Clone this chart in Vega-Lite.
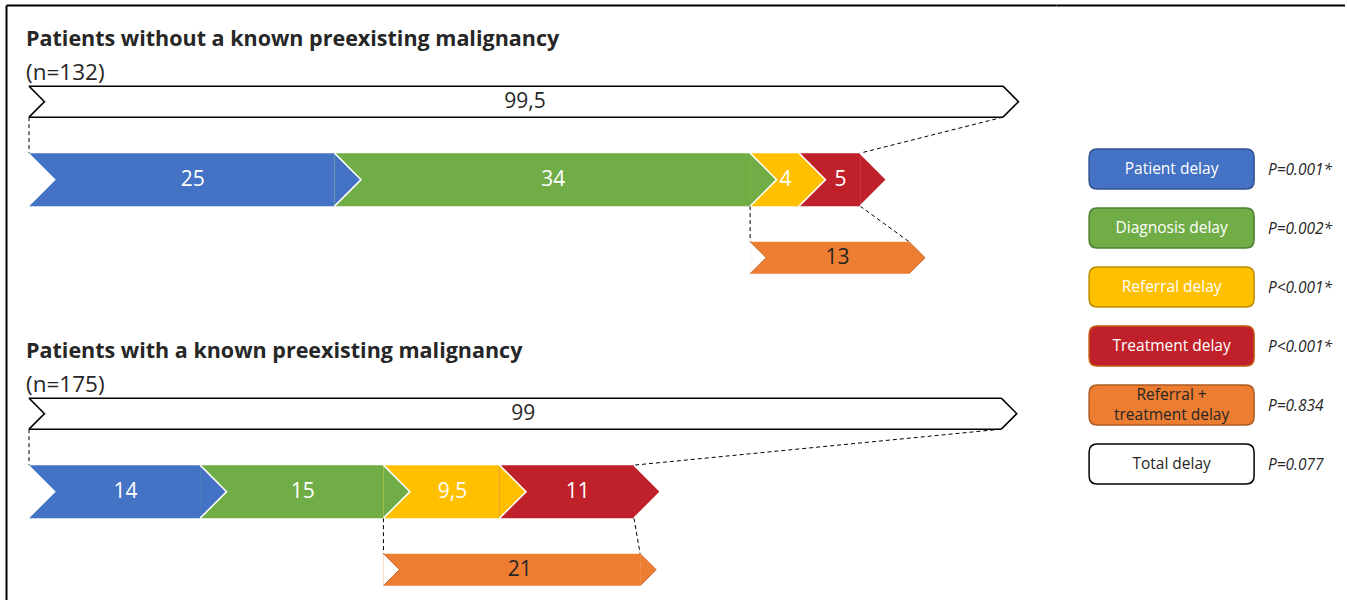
{
  "$schema": "https://vega.github.io/schema/vega-lite/v6.json",
  "padding": {"left": 6, "top": 5, "right": 0, "bottom": 0},
  "spacing": 0,
  "background": "white",
  "config": {
    "view": {"stroke": null},
    "font": "Open Sans",
    "axis": {"labels": false, "ticks": false, "grid": false, "domainColor": "#000000", "domainWidth": 2}
  },
  "datasets": {
    "segments": [
      {"group": "without", "lane": "without:delays", "order": 1, "delay": "Patient delay", "value": 25, "label": "25"},
      {"group": "without", "lane": "without:delays", "order": 2, "delay": "Diagnosis delay", "value": 34, "label": "34"},
      {"group": "without", "lane": "without:delays", "order": 3, "delay": "Referral delay", "value": 4, "label": "4"},
      {"group": "without", "lane": "without:delays", "order": 4, "delay": "Treatment delay", "value": 5, "label": "5"},
      {"group": "with", "lane": "with:delays", "order": 1, "delay": "Patient delay", "value": 14, "label": "14"},
      {"group": "with", "lane": "with:delays", "order": 2, "delay": "Diagnosis delay", "value": 15, "label": "15"},
      {"group": "with", "lane": "with:delays", "order": 3, "delay": "Referral delay", "value": 9.5, "label": "9,5"},
      {"group": "with", "lane": "with:delays", "order": 4, "delay": "Treatment delay", "value": 11, "label": "11"}
    ],
    "totals": [
      {"group": "without", "lane": "without:total", "delay": "Total delay", "value": 99.5, "label": "99,5", "title": "Patients without a known preexisting malignancy", "n": "(n=132)"},
      {"group": "with", "lane": "with:total", "delay": "Total delay", "value": 99, "label": "99", "title": "Patients with a known preexisting malignancy", "n": "(n=175)"}
    ],
    "combined": [
      {"group": "without", "lane": "without:combined", "delay": "Referral + treatment delay", "start": 59, "end": 72, "label": "13"},
      {"group": "with", "lane": "with:combined", "delay": "Referral + treatment delay", "start": 29, "end": 50, "label": "21"}
    ],
    "links": [
      {"kind": "total", "from": "without:total", "to": "without:delays", "xFrom": 0, "xTo": 0},
      {"kind": "total", "from": "without:total", "to": "without:delays", "xFrom": 99.5, "xTo": 68},
      {"kind": "combined", "from": "without:delays", "to": "without:combined", "xFrom": 59, "xTo": 59},
      {"kind": "combined", "from": "without:delays", "to": "without:combined", "xFrom": 68, "xTo": 72},
      {"kind": "total", "from": "with:total", "to": "with:delays", "xFrom": 0, "xTo": 0},
      {"kind": "total", "from": "with:total", "to": "with:delays", "xFrom": 99, "xTo": 49.5},
      {"kind": "combined", "from": "with:delays", "to": "with:combined", "xFrom": 29, "xTo": 29},
      {"kind": "combined", "from": "with:delays", "to": "with:combined", "xFrom": 49.5, "xTo": 50}
    ],
    "keyitems": [
      {"item": "Patient delay", "text": "Patient delay", "p": "P=0.001*"},
      {"item": "Diagnosis delay", "text": "Diagnosis delay", "p": "P=0.002*"},
      {"item": "Referral delay", "text": "Referral delay", "p": "P<0.001*"},
      {"item": "Treatment delay", "text": "Treatment delay", "p": "P<0.001*"},
      {"item": "Referral + treatment delay", "text": ["Referral +", "treatment delay"], "p": "P=0.834"},
      {"item": "Total delay", "text": "Total delay", "p": "P=0.077"}
    ]
  },
  "hconcat": [
    {
      "width": 1050,
      "height": 595,
      "layer": [
        {
          "data": {"name": "totals"},
          "transform": [{"stack": "value", "groupby": ["lane"], "as": ["x0", "x1"]}],
          "mark": {"type": "rule", "color": "#000000", "strokeWidth": 1.5, "yOffset": -15.5},
          "encoding": {
            "x": {"field": "x0", "type": "quantitative", "title": null, "scale": {"type": "linear", "domain": [-1.9, 0, 72, 99.5, 115], "range": [0, 23, 903, 997, 1050], "zero": false, "nice": false}, "axis": {"orient": "top", "title": null}},
            "x2": {"field": "x1"},
            "y": {"field": "lane", "type": "nominal", "title": null, "sort": null, "scale": {"type": "point", "domain": ["without:total", "without:delays", "without:combined", "gap", "with:total", "with:delays", "with:combined"], "padding": 0.814, "align": 0.761}, "axis": {"orient": "left", "title": null}}
          }
        },
        {
          "data": {"name": "totals"},
          "transform": [{"stack": "value", "groupby": ["lane"], "as": ["x0", "x1"]}],
          "mark": {"type": "rule", "color": "#000000", "strokeWidth": 1.5, "yOffset": 15.5},
          "encoding": {
            "x": {"field": "x0", "type": "quantitative", "title": null, "axis": {"orient": "top", "title": null}},
            "x2": {"field": "x1"},
            "y": {"field": "lane", "type": "nominal", "title": null}
          }
        },
        {
          "data": {"name": "links"},
          "transform": [{"filter": "datum.kind === 'total'"}],
          "mark": {"type": "rule", "strokeDash": [4, 3], "color": "#000000", "strokeWidth": 1, "yOffset": 15.5, "y2Offset": -26.5},
          "encoding": {
            "x": {"field": "xFrom", "type": "quantitative", "title": null, "axis": {"orient": "top", "title": null}},
            "x2": {"field": "xTo"},
            "y": {"field": "from", "type": "nominal", "title": null},
            "y2": {"field": "to"}
          }
        },
        {
          "data": {"name": "links"},
          "transform": [{"filter": "datum.kind === 'combined'"}],
          "mark": {"type": "rule", "strokeDash": [4, 3], "color": "#000000", "strokeWidth": 1, "yOffset": 26.5, "y2Offset": -16},
          "encoding": {
            "x": {"field": "xFrom", "type": "quantitative", "title": null, "axis": {"orient": "top", "title": null}},
            "x2": {"field": "xTo"},
            "y": {"field": "from", "type": "nominal", "title": null},
            "y2": {"field": "to"}
          }
        },
        {
          "data": {"name": "totals"},
          "transform": [{"stack": "value", "groupby": ["lane"], "as": ["x0", "x1"]}],
          "mark": {"type": "point", "shape": "M0,-1L1,0L0,1", "size": 961, "filled": false, "stroke": "#000000", "strokeWidth": 1.5, "opacity": 1},
          "encoding": {
            "x": {"field": "x0", "type": "quantitative", "title": null, "axis": {"orient": "top", "title": null}},
            "y": {"field": "lane", "type": "nominal", "title": null}
          }
        },
        {
          "data": {"name": "totals"},
          "mark": {"type": "point", "shape": "M0,-1L1,0L0,1", "size": 961, "filled": true, "fill": "#ffffff", "stroke": "#000000", "strokeWidth": 1.5, "opacity": 1},
          "encoding": {
            "x": {"field": "value", "type": "quantitative", "title": null, "axis": {"orient": "top", "title": null}},
            "y": {"field": "lane", "type": "nominal", "title": null}
          }
        },
        {
          "data": {"name": "totals"},
          "mark": {"type": "text", "fontSize": 21, "color": "#262626", "dx": -478, "baseline": "middle"},
          "encoding": {
            "x": {"field": "value", "type": "quantitative", "title": null, "axis": {"orient": "top", "title": null}},
            "y": {"field": "lane", "type": "nominal", "title": null},
            "text": {"field": "label", "type": "nominal"}
          }
        },
        {
          "data": {"name": "segments"},
          "transform": [{"stack": "value", "groupby": ["lane"], "sort": [{"field": "order", "order": "ascending"}], "as": ["x0", "x1"]}],
          "mark": {"type": "bar", "height": 53},
          "encoding": {
            "x": {"field": "x0", "type": "quantitative", "title": null, "axis": {"orient": "top", "title": null}},
            "x2": {"field": "x1"},
            "y": {"field": "lane", "type": "nominal", "title": null},
            "color": {
              "field": "delay", "type": "nominal", "legend": null,
              "scale": {"domain": ["Patient delay", "Diagnosis delay", "Referral delay", "Treatment delay", "Referral + treatment delay", "Total delay"], "range": ["#4472C4", "#70AD47", "#FFC000", "#C0202A", "#ED7D31", "#ffffff"]}
            }
          }
        },
        {
          "data": {"name": "combined"},
          "mark": {"type": "bar", "height": 32},
          "encoding": {
            "x": {"field": "start", "type": "quantitative", "title": null, "axis": {"orient": "top", "title": null}},
            "x2": {"field": "end"},
            "y": {"field": "lane", "type": "nominal", "title": null},
            "color": {"field": "delay", "type": "nominal", "legend": null}
          }
        },
        {
          "data": {"name": "segments"},
          "transform": [{"stack": "value", "groupby": ["lane"], "sort": [{"field": "order", "order": "ascending"}], "as": ["x0", "x1"]}],
          "mark": {"type": "point", "shape": "M0,-1L1,0L0,1", "size": 2809, "filled": true, "stroke": "#ffffff", "strokeWidth": 1.5, "opacity": 1},
          "encoding": {
            "x": {"field": "x1", "type": "quantitative", "title": null, "axis": {"orient": "top", "title": null}},
            "y": {"field": "lane", "type": "nominal", "title": null},
            "color": {"field": "delay", "type": "nominal", "legend": null}
          }
        },
        {
          "data": {"name": "combined"},
          "mark": {"type": "point", "shape": "M0,-1L1,0L0,1", "size": 1024, "filled": true, "stroke": "#C9652A", "strokeWidth": 1, "opacity": 1},
          "encoding": {
            "x": {"field": "end", "type": "quantitative", "title": null, "axis": {"orient": "top", "title": null}},
            "y": {"field": "lane", "type": "nominal", "title": null},
            "color": {"field": "delay", "type": "nominal", "legend": null}
          }
        },
        {
          "data": {"name": "segments"},
          "transform": [
            {"stack": "value", "groupby": ["lane"], "sort": [{"field": "order", "order": "ascending"}], "as": ["x0", "x1"]},
            {"filter": "datum.order === 1"}
          ],
          "mark": {"type": "point", "shape": "M0,-1L1,0L0,1", "size": 2809, "filled": true, "fill": "#ffffff", "stroke": "#ffffff", "strokeWidth": 0.5, "opacity": 1},
          "encoding": {
            "x": {"field": "x0", "type": "quantitative", "title": null, "axis": {"orient": "top", "title": null}},
            "y": {"field": "lane", "type": "nominal", "title": null}
          }
        },
        {
          "data": {"name": "combined"},
          "mark": {"type": "point", "shape": "M0,-1L1,0L0,1", "size": 1024, "filled": true, "fill": "#ffffff", "stroke": "#C9652A", "strokeWidth": 1, "opacity": 1},
          "encoding": {
            "x": {"field": "start", "type": "quantitative", "title": null, "axis": {"orient": "top", "title": null}},
            "y": {"field": "lane", "type": "nominal", "title": null}
          }
        },
        {
          "data": {"name": "segments"},
          "transform": [
            {"stack": "value", "groupby": ["lane"], "sort": [{"field": "order", "order": "ascending"}], "as": ["x0", "x1"]},
            {"fold": ["x0", "x1"], "as": ["edge", "pos"]},
            {"aggregate": [{"op": "mean", "field": "pos", "as": "mid"}], "groupby": ["lane", "label"]}
          ],
          "mark": {"type": "text", "fontSize": 21, "color": "#ffffff", "dx": 11, "baseline": "middle"},
          "encoding": {
            "x": {"field": "mid", "type": "quantitative", "title": null, "axis": {"orient": "top", "title": null}},
            "y": {"field": "lane", "type": "nominal", "title": null},
            "text": {"field": "label", "type": "nominal"}
          }
        },
        {
          "data": {"name": "combined"},
          "transform": [
            {"fold": ["start", "end"], "as": ["edge", "pos"]},
            {"aggregate": [{"op": "mean", "field": "pos", "as": "mid"}], "groupby": ["lane", "label"]}
          ],
          "mark": {"type": "text", "fontSize": 21, "color": "#262626", "dx": 8, "baseline": "middle"},
          "encoding": {
            "x": {"field": "mid", "type": "quantitative", "title": null, "axis": {"orient": "top", "title": null}},
            "y": {"field": "lane", "type": "nominal", "title": null},
            "text": {"field": "label", "type": "nominal"}
          }
        },
        {
          "data": {"name": "totals"},
          "transform": [{"stack": "value", "groupby": ["lane"], "as": ["x0", "x1"]}],
          "mark": {"type": "text", "align": "left", "baseline": "alphabetic", "fontSize": 21.5, "fontWeight": "bold", "color": "#262626", "dx": -3, "yOffset": -56},
          "encoding": {
            "x": {"field": "x0", "type": "quantitative", "title": null, "axis": {"orient": "top", "title": null}},
            "y": {"field": "lane", "type": "nominal", "title": null},
            "text": {"field": "title", "type": "nominal"}
          }
        },
        {
          "data": {"name": "totals"},
          "transform": [{"stack": "value", "groupby": ["lane"], "as": ["x0", "x1"]}],
          "mark": {"type": "text", "align": "left", "baseline": "alphabetic", "fontSize": 22.5, "color": "#262626", "dx": -3, "yOffset": -22},
          "encoding": {
            "x": {"field": "x0", "type": "quantitative", "title": null, "axis": {"orient": "top", "title": null}},
            "y": {"field": "lane", "type": "nominal", "title": null},
            "text": {"field": "n", "type": "nominal"}
          }
        }
      ]
    },
    {
      "width": 289,
      "height": 595,
      "data": {"name": "keyitems"},
      "layer": [
        {
          "transform": [{"fold": ["item"], "as": ["col", "key"]}],
          "mark": {"type": "point", "shape": "M-0.9,-0.2424L0.9,-0.2424Q1,-0.2424 1,-0.1424L1,0.1424Q1,0.2424 0.9,0.2424L-0.9,0.2424Q-1,0.2424 -1,0.1424L-1,-0.1424Q-1,-0.2424 -0.9,-0.2424Z", "size": 27225, "filled": true, "strokeWidth": 1.5, "opacity": 1},
          "encoding": {
            "x": {"field": "col", "type": "nominal", "title": null, "scale": {"type": "point", "domain": ["item", "p"], "padding": 1, "align": 0.6}, "axis": {"orient": "top", "title": null}},
            "y": {"field": "item", "type": "nominal", "title": null, "sort": null, "scale": {"type": "point", "domain": ["_a", "_b", "Patient delay", "Diagnosis delay", "Referral delay", "Treatment delay", "Referral + treatment delay", "Total delay", "_c", "_d"], "padding": 0.542, "align": 0.72}, "axis": null},
            "color": {"field": "item", "type": "nominal", "legend": null},
            "stroke": {
              "field": "item", "type": "nominal", "legend": null,
              "scale": {"domain": ["Patient delay", "Diagnosis delay", "Referral delay", "Treatment delay", "Referral + treatment delay", "Total delay"], "range": ["#2F528F", "#507E32", "#BC8C00", "#C55A11", "#AE5A21", "#000000"]}
            }
          }
        },
        {
          "transform": [{"filter": "!isArray(datum.text)"}, {"fold": ["item"], "as": ["col", "key"]}],
          "mark": {"type": "text", "fontSize": 15.5, "baseline": "middle"},
          "encoding": {
            "x": {"field": "col", "type": "nominal", "title": null, "axis": {"orient": "top", "title": null}},
            "y": {"field": "item", "type": "nominal", "title": null, "axis": null},
            "text": {"field": "text", "type": "nominal"},
            "color": {"condition": {"test": "datum.item === 'Total delay'", "value": "#262626"}, "value": "#ffffff"}
          }
        },
        {
          "transform": [{"filter": "isArray(datum.text)"}, {"fold": ["item"], "as": ["col", "key"]}],
          "mark": {"type": "text", "fontSize": 15.5, "lineHeight": 20, "baseline": "middle", "dy": -10, "color": "#262626"},
          "encoding": {
            "x": {"field": "col", "type": "nominal", "title": null, "axis": {"orient": "top", "title": null}},
            "y": {"field": "item", "type": "nominal", "title": null, "axis": null},
            "text": {"field": "text", "type": "nominal"}
          }
        },
        {
          "transform": [{"fold": ["p"], "as": ["col", "key"]}],
          "mark": {"type": "text", "align": "left", "baseline": "middle", "fontSize": 15.5, "fontStyle": "italic", "color": "#262626", "dy": 1},
          "encoding": {
            "x": {"field": "col", "type": "nominal", "title": null, "axis": {"orient": "top", "title": null}},
            "y": {"field": "item", "type": "nominal", "title": null, "axis": null},
            "text": {"field": "p", "type": "nominal"}
          }
        }
      ]
    }
  ]
}
